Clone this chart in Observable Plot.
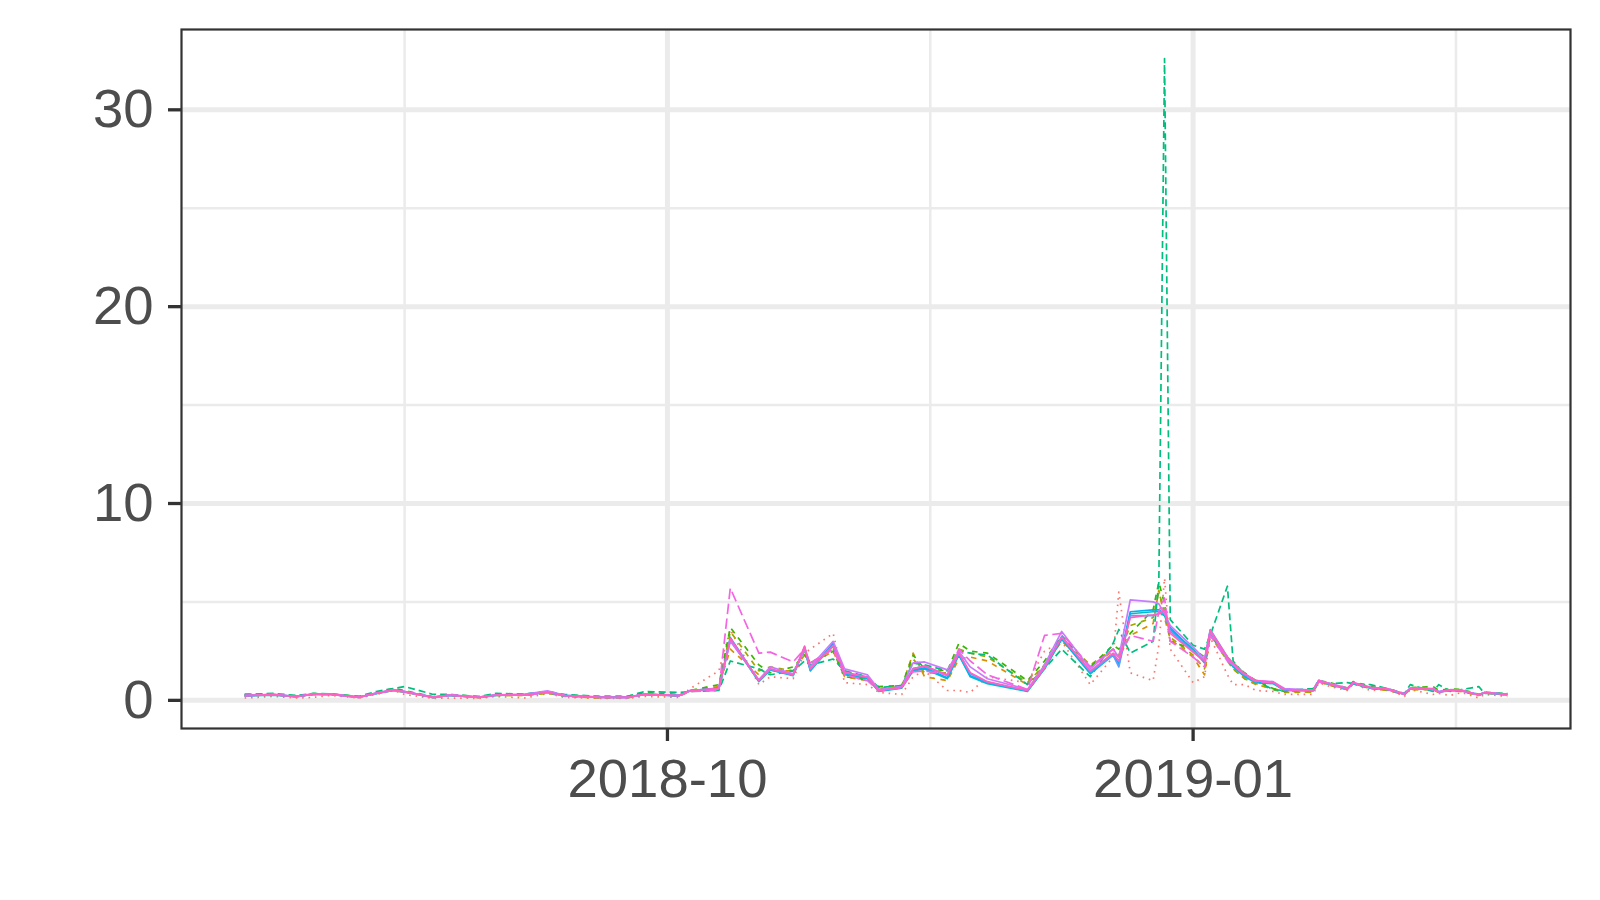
<!DOCTYPE html>
<html><head><meta charset="utf-8">
<script src="https://cdn.jsdelivr.net/npm/d3@7"></script>
<script src="https://cdn.jsdelivr.net/npm/@observablehq/plot@0.6"></script>
<style>
html,body{margin:0;padding:0;background:#fff;}
#chart{width:1600px;height:900px;overflow:hidden;}
</style></head><body><div id="chart"></div>
<script>
const dates = [
"2018-07-19","2018-07-24","2018-07-28","2018-07-31","2018-08-03","2018-08-08","2018-08-11","2018-08-14","2018-08-16","2018-08-21",
"2018-08-24","2018-08-29","2018-09-01","2018-09-06","2018-09-10","2018-09-13","2018-09-19","2018-09-24","2018-09-27","2018-10-03",
"2018-10-05","2018-10-10","2018-10-12","2018-10-17","2018-10-19","2018-10-23","2018-10-25","2018-10-26","2018-10-30","2018-11-01",
"2018-11-05","2018-11-07","2018-11-11","2018-11-13","2018-11-15","2018-11-19","2018-11-21","2018-11-23","2018-11-26","2018-12-03",
"2018-12-06","2018-12-09","2018-12-14","2018-12-18","2018-12-19","2018-12-21","2018-12-25","2018-12-26","2018-12-27","2018-12-28",
"2019-01-01","2019-01-03","2019-01-04","2019-01-07","2019-01-08","2019-01-10","2019-01-12","2019-01-15","2019-01-17","2019-01-22",
"2019-01-23","2019-01-25","2019-01-28","2019-01-29","2019-02-01","2019-02-04","2019-02-07","2019-02-08","2019-02-12","2019-02-13",
"2019-02-15","2019-02-17","2019-02-20","2019-02-21","2019-02-25"];

const salmonDotted = [
0.12,0.2,0.12,0.15,0.25,0.12,0.3,0.5,0.3,0.1, 0.12,0.1,0.2,0.12,0.35,0.15,0.1,0.1,0.2,0.15,
0.6,1.5,3.6,0.8,1.2,1.1,2.4,2.6,3.4,0.9, 0.8,0.4,0.3,1.2,1.5,0.5,0.5,0.4,1.2,0.9,
2.5,3.0,0.8,2.2,5.5,1.4,1.0,2.8,6.2,2.6, 0.9,1.2,3.2,1.3,0.8,0.8,0.5,0.45,0.3,0.3,
0.9,0.7,0.5,0.85,0.5,0.55,0.2,0.55,0.3,0.35, 0.25,0.4,0.12,0.3,0.2];
const orangeDashed = [
0.22,0.3,0.2,0.3,0.32,0.15,0.35,0.5,0.42,0.15, 0.25,0.14,0.25,0.26,0.38,0.22,0.12,0.14,0.3,0.25,
0.5,0.7,2.6,1.3,1.5,1.5,2.3,1.8,2.5,1.2, 1.0,0.6,0.7,2.4,1.2,1.0,2.1,2.2,2.0,0.8,
1.8,3.0,1.7,2.5,2.2,3.3,3.9,5.6,4.2,3.1, 2.2,1.3,3.4,2.1,1.6,1.1,0.8,0.6,0.45,0.4,
0.95,0.75,0.55,0.85,0.6,0.5,0.3,0.55,0.55,0.4, 0.5,0.45,0.25,0.38,0.28];
const oliveDashed = [
0.25,0.28,0.2,0.31,0.3,0.16,0.36,0.55,0.45,0.14, 0.27,0.15,0.26,0.25,0.36,0.2,0.12,0.12,0.3,0.22,
0.45,0.65,3.5,1.5,1.7,1.5,2.5,1.9,2.6,1.3, 1.1,0.55,0.7,2.1,1.4,1.4,2.6,2.4,2.2,0.9,
1.8,3.2,1.8,2.6,2.3,3.8,4.2,5.5,4.5,3.2, 2.3,1.6,3.3,2.0,1.6,1.1,0.85,0.55,0.4,0.42,
0.95,0.78,0.55,0.85,0.6,0.52,0.3,0.56,0.55,0.4, 0.52,0.45,0.26,0.38,0.28];
const greenDashed = [
0.3,0.3,0.22,0.34,0.32,0.2,0.4,0.6,0.5,0.18, 0.3,0.18,0.3,0.3,0.45,0.26,0.2,0.2,0.4,0.3,
0.5,0.8,3.7,1.8,1.4,1.7,2.3,1.9,2.5,1.2, 1.05,0.7,0.75,2.3,1.6,1.5,2.9,2.5,2.4,1.0,
2.0,3.3,1.7,2.8,2.6,3.4,4.6,6.0,4.9,3.0, 2.6,2.2,3.3,2.2,1.9,1.4,1.0,0.6,0.45,0.55,
1.0,0.9,0.62,0.95,0.7,0.6,0.35,0.65,0.7,0.5, 0.58,0.55,0.3,0.42,0.32];
const tealDashed = [
0.3,0.35,0.25,0.35,0.33,0.2,0.45,0.6,0.7,0.3, 0.3,0.2,0.35,0.32,0.45,0.3,0.2,0.2,0.45,0.4,
0.45,0.5,2.0,1.6,1.3,1.5,2.0,1.8,2.1,1.5, 1.2,0.65,0.75,1.9,1.8,1.5,2.5,2.4,2.3,0.8,
1.6,2.6,1.2,2.9,3.6,2.4,3.0,6.0,32.6,4.1, 2.8,2.6,3.3,5.8,2.0,1.3,1.0,0.55,0.5,0.6,
1.0,0.85,0.9,0.85,0.8,0.6,0.35,0.8,0.45,0.8, 0.45,0.55,0.7,0.35,0.35];
const cyanSolid = [
0.22,0.27,0.2,0.3,0.3,0.16,0.34,0.5,0.42,0.16, 0.25,0.16,0.25,0.28,0.4,0.22,0.16,0.16,0.3,0.25,
0.5,0.6,3.1,0.95,1.55,1.25,2.6,1.5,2.85,1.3, 1.1,0.45,0.62,1.5,1.6,1.1,2.3,1.2,0.85,0.45,
1.6,3.1,1.35,2.3,1.8,4.4,4.5,4.5,4.3,3.6, 2.6,1.9,3.5,2.1,1.7,1.2,0.9,0.85,0.5,0.48,
0.95,0.8,0.58,0.85,0.62,0.55,0.3,0.58,0.55,0.42, 0.5,0.48,0.28,0.38,0.28];
const skySolid = [
0.25,0.28,0.2,0.31,0.3,0.17,0.35,0.52,0.45,0.17, 0.26,0.17,0.27,0.3,0.45,0.25,0.17,0.16,0.3,0.24,
0.5,0.62,3.2,1.0,1.55,1.3,2.7,1.55,2.9,1.35, 1.15,0.48,0.64,1.55,1.65,1.15,2.35,1.25,0.9,0.48,
1.62,3.15,1.4,2.35,1.85,4.5,4.6,4.6,4.4,3.7, 2.5,1.95,3.5,2.15,1.75,1.25,0.95,0.88,0.52,0.5,
1.0,0.82,0.6,0.88,0.64,0.56,0.31,0.6,0.56,0.43, 0.52,0.5,0.29,0.4,0.3];
const blueSolid = [
0.23,0.3,0.18,0.33,0.31,0.15,0.37,0.55,0.43,0.14, 0.26,0.15,0.26,0.27,0.42,0.23,0.15,0.14,0.31,0.23,
0.48,0.6,3.05,0.98,1.58,1.28,2.7,1.58,2.75,1.4, 1.2,0.52,0.68,1.62,1.72,1.25,2.38,1.35,0.92,0.5,
1.7,3.25,1.45,2.3,1.7,4.3,4.3,4.4,4.5,3.5, 2.5,2.0,3.6,2.2,1.8,1.3,1.0,0.9,0.55,0.5,
1.02,0.84,0.56,0.88,0.65,0.57,0.33,0.62,0.57,0.43, 0.52,0.5,0.28,0.4,0.31];
const purpleSolid = [
0.25,0.3,0.2,0.33,0.3,0.16,0.37,0.5,0.44,0.16, 0.28,0.16,0.28,0.3,0.48,0.25,0.16,0.15,0.3,0.25,
0.5,0.6,3.0,1.05,1.7,1.35,2.6,1.7,3.0,1.6, 1.3,0.55,0.7,1.9,1.95,1.55,2.5,1.7,1.1,0.55,
1.8,3.5,1.6,2.6,2.2,5.1,5.0,4.9,4.4,3.8, 2.7,2.1,3.5,2.1,1.8,1.35,1.0,0.95,0.6,0.52,
1.0,0.85,0.62,0.9,0.66,0.6,0.33,0.62,0.6,0.44, 0.54,0.52,0.28,0.4,0.3];
const magentaDashed = [
0.24,0.29,0.18,0.31,0.3,0.15,0.36,0.52,0.44,0.15, 0.27,0.15,0.27,0.27,0.4,0.24,0.15,0.15,0.3,0.24,
0.45,0.5,5.7,2.4,2.45,1.95,2.6,1.9,2.6,1.3, 1.0,0.48,0.65,1.45,1.5,1.3,2.6,2.0,1.3,0.55,
3.3,3.4,1.7,2.6,2.2,3.3,3.0,4.5,5.2,3.0, 2.2,1.7,3.3,2.0,1.8,1.3,0.95,0.9,0.52,0.5,
0.95,0.8,0.6,0.88,0.64,0.56,0.3,0.6,0.56,0.42, 0.52,0.48,0.27,0.38,0.3];
const pinkSolid = [
0.24,0.29,0.19,0.32,0.32,0.15,0.36,0.53,0.44,0.15, 0.27,0.15,0.27,0.27,0.41,0.24,0.15,0.15,0.32,0.24,
0.49,0.61,3.15,1.0,1.6,1.3,2.76,1.6,2.8,1.43, 1.17,0.5,0.66,1.6,1.75,1.3,2.4,1.4,0.95,0.5,
1.65,3.2,1.5,2.4,2.0,4.2,4.35,4.4,4.6,3.4, 2.45,2.0,3.55,2.2,1.9,1.35,1.0,0.92,0.55,0.5,
1.0,0.83,0.6,0.9,0.66,0.58,0.32,0.6,0.58,0.42, 0.53,0.5,0.27,0.4,0.3];

const seriesNames  = ["s1","s2","s3","s4","s5","s6","s7","s8","s9","s10","s11"];
const seriesValues = [salmonDotted, orangeDashed, oliveDashed, greenDashed, tealDashed, cyanSolid, skySolid, blueSolid, purpleSolid, magentaDashed, pinkSolid];
const seriesColors = ["#F8766D","#D89000","#A3A500","#39B600","#00BF7D","#00BFC4","#00B0F6","#619CFF","#C77CFF","#F564E3","#FF61C3"];
const seriesDash   = ["1.6,4.8","5.5,5.5","5.5,5.5","5.5,5.5","7,4",null,null,null,null,"10.5,4.5",null];

const yMajor = [0, 10, 20, 30];
const yMinor = [5, 15, 25];
const xMajor = ["2018-10-01","2019-01-01"];
const xMinor = ["2018-08-16","2018-11-16","2019-02-16"];

const parse = s => new Date(s + "T00:00:00Z");
const rows = [];
seriesNames.forEach((name, i) => {
  seriesValues[i].forEach((v, j) => rows.push({series: name, date: parse(dates[j]), value: v}));
});

const dExt = d3.extent(dates.map(parse));
const span = dExt[1] - dExt[0];
const xDomain = [new Date(+dExt[0] - span * 0.05), new Date(+dExt[1] + span * 0.05)];

const lines = seriesNames.map((name, i) => Plot.line(rows.filter(r => r.series === name), {
  x: "date", y: "value", stroke: "series",
  strokeWidth: 1.7, strokeDasharray: seriesDash[i] || undefined,
  strokeLinecap: "butt", strokeLinejoin: "round"
}));

const chart = Plot.plot({
  width: 1600, height: 900,
  marginLeft: 181, marginRight: 30, marginTop: 29, marginBottom: 172,
  style: {fontFamily: "'Liberation Sans', Arial, Helvetica, sans-serif", background: "#fff"},
  x: {type: "utc", domain: xDomain},
  y: {domain: [-1.43, 34.08]},
  color: {domain: seriesNames, range: seriesColors},
  marks: [
    Plot.gridY(yMinor, {stroke: "#EBEBEB", strokeOpacity: 1, strokeWidth: 2.5}),
    Plot.gridX(xMinor.map(parse), {stroke: "#EBEBEB", strokeOpacity: 1, strokeWidth: 2.5}),
    Plot.gridY(yMajor, {stroke: "#EBEBEB", strokeOpacity: 1, strokeWidth: 5}),
    Plot.gridX(xMajor.map(parse), {stroke: "#EBEBEB", strokeOpacity: 1, strokeWidth: 5}),
    ...lines,
    Plot.frame({stroke: "#333333", strokeWidth: 2.2}),
    Plot.axisY(yMajor, {tickSize: 13, tickPadding: 15, fontSize: 54.5, color: "#4D4D4D", stroke: "#333333", strokeWidth: 3.3, label: null}),
    Plot.axisX(xMajor.map(parse), {tickSize: 13, tickPadding: 17, fontSize: 54.5, color: "#4D4D4D", stroke: "#333333", strokeWidth: 3.3, label: null, tickFormat: d3.utcFormat("%Y-%m")})
  ]
});
document.getElementById("chart").appendChild(chart);
</script>
</body></html>
